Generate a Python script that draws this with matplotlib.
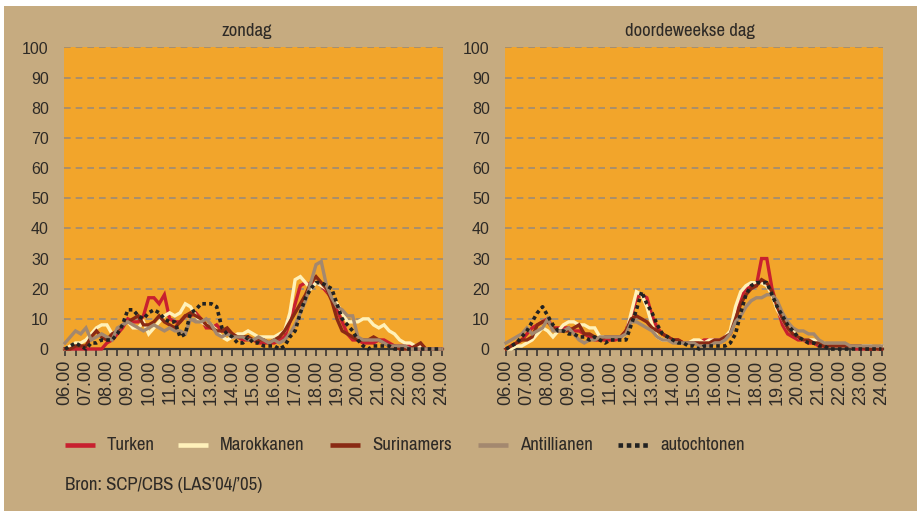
import numpy as np
import matplotlib
matplotlib.use("Agg")
import matplotlib.pyplot as plt
from matplotlib.patches import Rectangle
from matplotlib.lines import Line2D

# ---------------- data (quarter-hour values, 06.00 .. 24.00) ----------------
hours = np.arange(6, 24.001, 0.25)
tick_hours = list(range(6, 25))
tick_labels = [f"{h:02d}.00" for h in tick_hours]
series_names = ["Turken", "Marokkanen", "Surinamers", "Antillianen", "autochtonen"]
panel_titles = ["zondag", "doordeweekse dag"]

# zondag
zon_turken = [0, 0, 0, 0,  0, 0, 0, 0,  2, 3, 5, 7,  10, 9, 9, 11,  17, 17, 15, 18,
              10, 9, 9, 11,  11, 12, 10, 7,  7, 8, 6, 6,  5, 4, 3, 3,  3, 2, 2, 2,
              2, 3, 4, 9,  15, 21, 22, 21,  22, 21, 19, 17,  13, 9, 5, 3,  3, 2, 2, 2,
              3, 3, 2, 1,  1, 1, 1, 0,  0, 0, 0, 0,  0]
zon_marokkanen = [0, 1, 2, 2,  3, 5, 7, 8,  8, 5, 6, 8,  9, 7, 7, 9,  5, 7, 9, 11,
                  12, 11, 12, 15,  14, 11, 9, 8,  8, 6, 4, 3,  4, 5, 5, 6,  5, 4, 4, 4,
                  4, 5, 6, 12,  23, 24, 22, 20,  22, 21, 20, 17,  15, 12, 9, 9,
                  9, 10, 10, 8,  7, 8, 6, 5,  3, 2, 2, 1,  1, 0, 0, 0,  0]
zon_surinamers = [0, 0, 1, 1,  1, 4, 6, 4,  3, 5, 6, 8,  9, 10, 11, 8,  8, 9, 11, 9,
                  8, 7, 9, 11,  12, 11, 10, 8,  7, 6, 6, 7,  5, 4, 4, 4,  3, 3, 3, 2,
                  3, 4, 6, 9,  12, 15, 18, 22,  24, 22, 20, 16,  10, 6, 5, 4,
                  3, 3, 3, 4,  3, 2, 1, 1,  0, 0, 0, 1,  2, 0, 0, 0,  0]
zon_antillianen = [2, 4, 6, 5,  7, 3, 4, 5,  4, 3, 7, 8,  9, 8, 7, 6,  7, 8, 7, 6,
                   7, 6, 6, 5,  10, 9, 9, 10,  8, 5, 4, 5,  4, 4, 4, 3,  3, 4, 3, 2,
                   3, 2, 3, 5,  8, 12, 16, 22,  28, 29, 21, 17,  14, 13, 11, 11,
                   4, 3, 3, 3,  3, 2, 1, 1,  1, 1, 0, 0,  0, 0, 0, 0,  0]
zon_autochtonen = [0, 1, 2, 1,  0, 2, 2, 3,  3, 3, 5, 8,  13, 13, 11, 10,  12, 13, 12, 10,
                   9, 9, 4, 5,  12, 13, 15, 15,  15, 14, 7, 5,  4, 2, 2, 4,  2, 2, 1, 1,
                   1, 0, 1, 4,  6, 12, 17, 20,  22, 22, 21, 20,  15, 10, 8, 6,
                   3, 1, 0, 1,  1, 1, 1, 0,  0, 0, 0, 0,  0, 0, 0, 0,  0]

# doordeweekse dag
wk_turken = [0, 1, 2, 3,  5, 7, 8, 9,  10, 7, 7, 7,  7, 6, 6, 5,  4, 3, 3, 3,
             3, 3, 4, 6,  11, 17, 18, 17,  11, 7, 5, 4,  3, 3, 2, 2,  2, 2, 3, 3,
             3, 3, 4, 5,  12, 17, 20, 21,  21, 30, 30, 20,  14, 8, 5, 4,
             3, 3, 2, 2,  1, 1, 1, 1,  1, 1, 1, 0,  0, 0, 0, 0,  0]
wk_marokkanen = [0, 0, 1, 1,  2, 3, 5, 7,  6, 4, 6, 8,  9, 9, 8, 8,  7, 7, 4, 4,
                 4, 4, 4, 5,  12, 19, 18, 14,  8, 4, 3, 3,  3, 2, 2, 2,  3, 3, 2, 3,
                 3, 3, 4, 6,  14, 19, 21, 22,  22, 22, 21, 18,  13, 10, 7, 6,
                 4, 3, 3, 3,  2, 2, 1, 1,  1, 1, 1, 1,  1, 1, 1, 0,  1]
wk_surinamers = [0, 1, 2, 3,  3, 4, 8, 9,  9, 7, 6, 6,  6, 7, 8, 5,  5, 4, 3, 4,
                 4, 4, 4, 6,  10, 11, 10, 9,  7, 6, 5, 4,  3, 3, 2, 2,  2, 2, 2, 2,
                 3, 3, 4, 5,  10, 15, 18, 20,  21, 23, 22, 19,  14, 10, 7, 5,
                 4, 3, 3, 2,  2, 1, 1, 1,  1, 1, 1, 1,  1, 0, 0, 0,  0]
wk_antillianen = [2, 3, 4, 5,  7, 5, 6, 7,  10, 6, 6, 6,  7, 5, 3, 2,  3, 3, 4, 4,
                  4, 4, 4, 5,  9, 9, 8, 7,  6, 4, 3, 3,  2, 2, 2, 2,  2, 1, 1, 1,
                  2, 2, 3, 5,  9, 11, 14, 16,  17, 17, 18, 18,  16, 12, 9, 7,
                  6, 6, 5, 5,  3, 2, 2, 2,  2, 2, 1, 1,  1, 1, 1, 1,  1]
wk_autochtonen = [0, 1, 2, 4,  6, 9, 12, 14,  11, 8, 6, 6,  5, 5, 4, 4,  3, 4, 3, 2,
                  3, 3, 3, 3,  8, 13, 19, 15,  12, 8, 5, 4,  3, 2, 2, 1,  1, 0, 1, 1,
                  1, 1, 1, 2,  5, 12, 18, 21,  22, 22, 22, 18,  14, 11, 8, 6,
                  4, 3, 2, 2,  1, 1, 0, 0,  0, 0, 0, 0,  0, 0, 0, 0,  0]

panels = [
    [zon_turken, zon_marokkanen, zon_surinamers, zon_antillianen, zon_autochtonen],
    [wk_turken, wk_marokkanen, wk_surinamers, wk_antillianen, wk_autochtonen],
]

# ---------------- style ----------------
TAN = "#C6AB80"
ORANGE = "#F2A52B"
GRID = "#9C8B77"
TXT = "#2E2A26"
NARROW = ["Archivo Narrow", "Roboto Condensed", "DejaVu Sans"]
TICKF = ["Liberation Sans", "DejaVu Sans"]
colors = ["#C8202F", "#FFF1BA", "#8A2A14", "#A3886F", "#222222"]
widths = [2.4, 2.4, 2.4, 2.4, 2.6]
styles = ["-", "-", "-", "-", (0, (1.0, 0.9))]

W, H = 919, 511
fig = plt.figure(figsize=(W / 100, H / 100), dpi=100)
fig.patch.set_facecolor("white")
fig.add_artist(Rectangle((4 / W, 0), 913 / W, 505 / H, transform=fig.transFigure,
                         facecolor=TAN, edgecolor="none", zorder=0))

ax_boxes = [(64, 443), (505, 883)]
y0_px, y100_px = 349, 47.5
title_x = [247, 690]

for i, (x1, x2) in enumerate(ax_boxes):
    ax = fig.add_axes([x1 / W, 1 - y0_px / H, (x2 - x1) / W, (y0_px - y100_px) / H])
    ax.set_facecolor(ORANGE)
    ax.set_xlim(5.95, 24.07)
    ax.set_ylim(0, 100)
    for s in ["left", "right", "top"]:
        ax.spines[s].set_visible(False)
    ax.spines["bottom"].set_color("#3A3632")
    ax.spines["bottom"].set_linewidth(1.6)
    ax.set_yticks(np.arange(0, 101, 10))
    ax.tick_params(axis="y", length=0, pad=11, labelsize=11.5, labelcolor=TXT)
    for yv in range(10, 101, 10):
        ax.axhline(yv, color=GRID, lw=1.2, dashes=(4, 3), zorder=1)
    xt = np.arange(6, 24.001, 0.5)
    ax.set_xticks(xt)
    ax.set_xticklabels([f"{int(v):02d}.00" if v == int(v) else "" for v in xt],
                       rotation=90, fontsize=13, color=TXT)
    ax.tick_params(axis="x", length=5, width=1.2, color="#3A3632", pad=3)
    for lab in ax.get_yticklabels() + ax.get_xticklabels():
        lab.set_family(TICKF)
    for k, vals in enumerate(panels[i]):
        ax.plot(hours, vals, color=colors[k], lw=widths[k], linestyle=styles[k],
                solid_joinstyle="miter", zorder=3 + k, clip_on=False,
                label=series_names[k])
    fig.text(title_x[i] / W, 1 - 31 / H, panel_titles[i], ha="center", va="center",
             fontsize=13.5, family=NARROW, color=TXT)

# legend, laid out by hand to match the reference spacing
leg_handle_x = [65, 178, 330, 478, 618]
leg_y = 1 - 445 / H
for k, name in enumerate(series_names):
    hx = leg_handle_x[k]
    ls = "-" if k < 4 else (0, (1.0, 0.8))
    fig.add_artist(Line2D([hx / W, (hx + 30) / W], [leg_y, leg_y], transform=fig.transFigure,
                          color=colors[k], lw=3.3, linestyle=ls, solid_capstyle="butt"))
    fig.text((hx + 42) / W, leg_y, name, ha="left", va="center", fontsize=13.5,
             family=NARROW, color=TXT)

fig.text(65 / W, 1 - 485 / H, "Bron: SCP/CBS (LAS\u201904/\u201905)", ha="left", va="center",
         fontsize=13.5, family=NARROW, color=TXT)

fig.savefig("out.png", dpi=100, facecolor=fig.get_facecolor())
